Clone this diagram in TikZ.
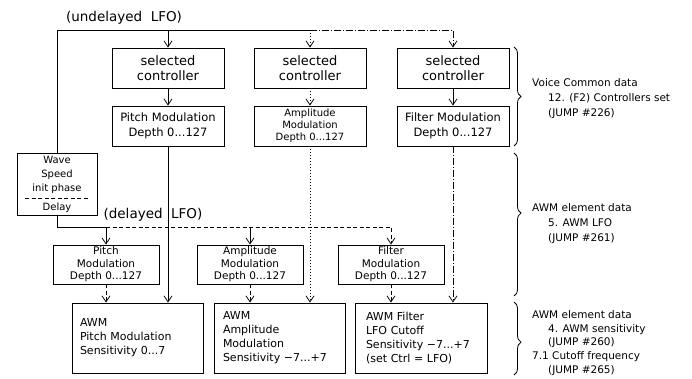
\documentclass[tikz,border=0pt]{standalone}
\usepackage{fontspec}
\setmainfont{DejaVu Sans}
\usetikzlibrary{arrows.meta,decorations.pathreplacing}
\begin{document}
\begin{tikzpicture}[x=1pt,y=-1pt,
  ln/.style={line width=0.8pt},
  tip/.style={-{Straight Barb[length=6pt,width=8pt]}},
  arr/.style={ln,tip},
  dotl/.style={dash pattern=on 1pt off 2pt},
  dashl/.style={dash pattern=on 4pt off 2.5pt},
  ddot/.style={dash pattern=on 7pt off 2pt on 1pt off 2pt},
  box/.style={draw,line width=0.8pt,inner sep=0pt,align=center},
  ctrl/.style={box,minimum width=112pt,minimum height=40pt,font=\fontsize{13}{15.5}\selectfont},
  dep/.style={box,minimum width=112pt,minimum height=40pt,font=\fontsize{11.5}{14.5}\selectfont},
  ldep/.style={box,minimum width=106pt,minimum height=39pt,font=\fontsize{10.5}{12.5}\selectfont},
  sens/.style={draw,line width=0.8pt,align=left,minimum height=70pt,inner ysep=0pt,font=\fontsize{11}{14}\selectfont},
  side/.style={align=left,anchor=west,inner sep=0pt,font=\fontsize{10.5}{15}\selectfont},
  brc/.style={decorate,decoration={brace,amplitude=7pt},line width=0.8pt},
  lbl/.style={inner sep=0pt,font=\fontsize{13.5}{15}\selectfont}]
\useasboundingbox (0,0) rectangle (692,378);

% labels
\node[lbl] (ulfo) at (124,18) {(undelayed\ \ LFO)};
\node[lbl] (dlfo) at (153,215) {(delayed\ \ LFO)};

% voice common row
\node[ctrl] (sc1) at (168,68) {selected\\controller};
\node[ctrl] (sc2) at (310,68) {selected\\controller};
\node[ctrl] (sc3) at (453,68) {selected\\controller};
\node[dep] (pd1) at (168,126) {Pitch Modulation\\Depth 0...127};
\node[dep,font=\fontsize{10}{12}\selectfont] (pd2) at (310,126) {Amplitude\\Modulation\\Depth 0...127};
\node[dep] (pd3) at (453,126) {Filter Modulation\\Depth 0...127};

% wave box
\node[box,minimum width=80pt,minimum height=62pt,font=\fontsize{10}{14}\selectfont] (wave) at (57,184) {Wave\\Speed\\init phase\\[5pt]Delay};
\draw[ln,dashl] (25,198) -- (88,198);

% AWM LFO row
\node[ldep] (ld1) at (106,264.5) {Pitch\\Modulation\\Depth 0...127};
\node[ldep] (ld2) at (250,264.5) {Amplitude\\Modulation\\Depth 0...127};
\node[ldep] (ld3) at (391,264.5) {Filter\\Modulation\\Depth 0...127};

% sensitivity row
\node[sens,text width=115pt,inner xsep=8pt] (ps) at (137.5,338) {AWM\\Pitch Modulation\\Sensitivity 0...7};
\node[sens,text width=113pt,inner xsep=9pt] (as) at (279.5,338) {AWM\\Amplitude\\Modulation\\Sensitivity~−7...+7};
\node[sens,text width=110pt,inner xsep=11pt] (fs) at (421,338) {AWM Filter\\LFO Cutoff\\Sensitivity~−7...+7\\(set Ctrl = LFO)};

% coordinates of the two LFO buses
\coordinate (topy) at (0,30);
\coordinate (boty) at (0,227);

% undelayed LFO bus
\draw[ln] (wave.north) |- (sc2.north |- topy);
\draw[ln,ddot,tip] (sc2.north |- topy) -| (sc3.north);
\draw[arr] (sc1.north |- topy) -- (sc1.north);
\draw[arr,dotl] (sc2.north |- topy) -- (sc2.north);

% controller -> depth
\draw[arr] (sc1) -- (pd1);
\draw[arr,dotl] (sc2) -- (pd2);
\draw[arr] (sc3) -- (pd3);

% depth -> sensitivity (long)
\draw[arr] (pd1.south) -- (pd1.south |- ps.north);
\draw[arr,dotl] (pd2.south) -- (pd2.south |- as.north);
\draw[arr,ddot] (pd3.south) -- (pd3.south |- fs.north);

% delayed LFO bus
\draw[ln] (wave.south) |- (ld1.north |- boty);
\draw[ln,dashl,tip] (ld1.north |- boty) -| (ld3.north);
\draw[arr] (ld1.north |- boty) -- (ld1.north);
\draw[arr] (ld2.north |- boty) -- (ld2.north);

% AWM depth -> sensitivity
\draw[arr,dashl] (ld1.south) -- (ld1.south |- ps.north);
\draw[arr,dashl] (ld2.south) -- (ld2.south |- as.north);
\draw[arr,dashl] (ld3.south) -- (ld3.south |- fs.north);

% braces
\draw[brc] (514,47) -- (514,146);
\draw[brc,decoration={aspect=0.42}] (514,153) -- (514,296);
\draw[brc,decoration={aspect=0.55}] (514,302) -- (514,375);

% side texts
\node[side] (t1) at (532,99) {Voice Common data\\\hspace*{16pt}12. (F2) Controllers set\\\hspace*{16pt}(JUMP \#226)};
\node[side] (t2) at (532,223.5) {AWM element data\\\hspace*{16pt}5. AWM LFO\\\hspace*{16pt}(JUMP \#261)};
\node[side,font=\fontsize{10.5}{13.7}\selectfont] (t3) at (532,343) {AWM element data\\\hspace*{16pt}4. AWM sensitivity\\\hspace*{16pt}(JUMP \#260)\\7.1 Cutoff frequency\\\hspace*{16pt}(JUMP \#265)};
\end{tikzpicture}
\end{document}
